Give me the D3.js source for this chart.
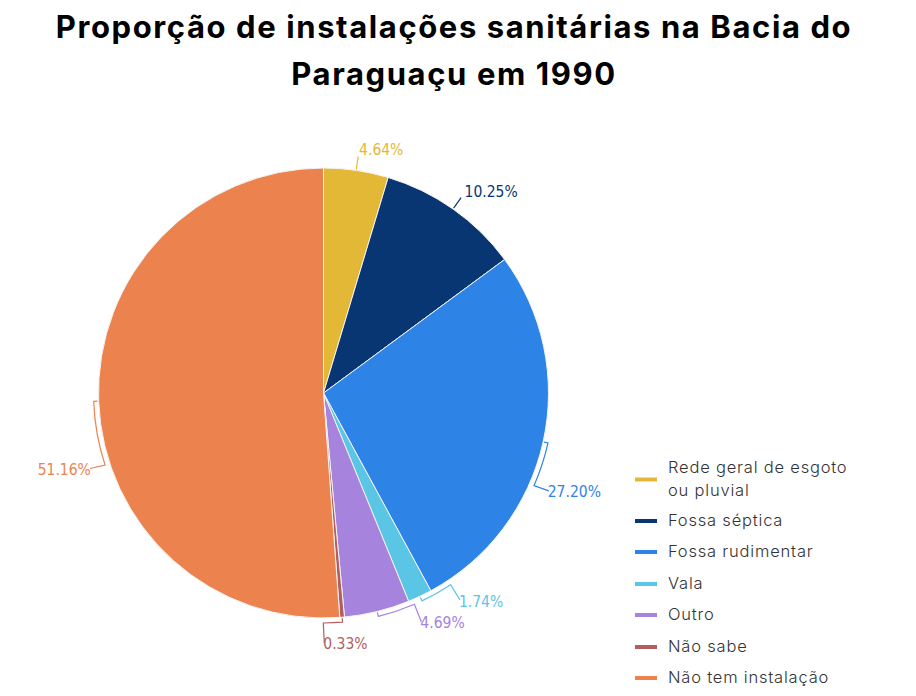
<!DOCTYPE html>
<html>
<head>
<meta charset="utf-8">
<script src="https://cdn.jsdelivr.net/npm/d3@7"></script>
<style>
  html, body { margin: 0; padding: 0; background: #fff; }
  svg { display: block; }
</style>
</head>
<body>
<svg id="chart" width="916" height="696"></svg>
<script>
// ---- data ----
const titleLines = ["Proporção de instalações sanitárias na Bacia do", "Paraguaçu em 1990"];
const categories = ["Rede geral de esgoto ou pluvial", "Fossa séptica", "Fossa rudimentar", "Vala", "Outro", "Não sabe", "Não tem instalação"];
const legendLabels = [["Rede geral de esgoto", "ou pluvial"], ["Fossa séptica"], ["Fossa rudimentar"], ["Vala"], ["Outro"], ["Não sabe"], ["Não tem instalação"]];
const values = [4.64, 10.25, 27.20, 1.74, 4.69, 0.33, 51.16];
const valueLabels = ["4.64%", "10.25%", "27.20%", "1.74%", "4.69%", "0.33%", "51.16%"];
const colors = ["#E3B836", "#073672", "#2E84E6", "#5BC5E5", "#A683DD", "#B35E5E", "#EC834F"];

// ---- layout (not data) ----
const W = 916, H = 696;
const cx = 323.5, cy = 393, R = 225;
// label angle shift (degrees) from slice middle, used to avoid overlaps
const labelShift = [0, 0, 11.2, -8.2, -9.5, 4.8, -16.2];

const svg = d3.select("#chart");

// title
svg.append("g").selectAll("text").data(titleLines).join("text")
  .attr("x", W / 2 - 4)
  .attr("y", (d, i) => 38 + i * 47)
  .attr("text-anchor", "middle")
  .style("font-family", "Inter, 'Open Sans', sans-serif")
  .style("font-weight", 700)
  .style("font-size", "31px")
  .style("letter-spacing", "1.6px")
  .style("fill", "#000")
  .text(d => d);

const data = categories.map((c, i) => ({ cat: c, value: values[i], label: valueLabels[i], color: colors[i], shift: labelShift[i] }));

const pie = d3.pie().value(d => d.value).sort(null);
const arcs = pie(data);
const arc = d3.arc().innerRadius(0).outerRadius(R);

const g = svg.append("g").attr("transform", `translate(${cx},${cy})`);

g.selectAll("path.slice").data(arcs).join("path")
  .attr("class", "slice")
  .attr("d", arc)
  .attr("fill", d => d.data.color)
  .attr("stroke", "#f4f4f4")
  .attr("stroke-width", 1);

// polar helper: angle clockwise from top
const pt = (r, a) => [r * Math.sin(a), -r * Math.cos(a)];
const rad = Math.PI / 180;

function labelAngle(d) {
  return (d.startAngle + d.endAngle) / 2 + d.data.shift * rad;
}
function labelPoint(d) {
  const la = labelAngle(d);
  const p = pt(R + 20, la);
  const c = Math.cos(la);
  if (c < 0) p[1] += 7 * c * c;
  return p;
}

function leaderPath(d) {
  const mid = (d.startAngle + d.endAngle) / 2;
  const la = labelAngle(d);
  const rb = R + 5;
  const p0 = pt(R + 1, mid);
  const p1 = pt(rb, mid);
  const p2 = pt(rb, la);
  const lp = labelPoint(d);
  const left = Math.sin(la) < -0.05;
  const p3 = [lp[0] + (left ? -1 : 1), lp[1] - 2];
  const sweep = la > mid ? 1 : 0;
  if (Math.abs(la - mid) < 1e-6) {
    return `M${p0}L${pt(R + 14, la)}`;
  }
  return `M${p0}L${p1}A${rb},${rb} 0 0 ${sweep} ${p2}L${p3}`;
}

g.selectAll("path.leader").data(arcs).join("path")
  .attr("class", "leader")
  .attr("d", leaderPath)
  .attr("fill", "none")
  .attr("stroke", d => d.data.color)
  .attr("stroke-width", 1.2);

g.selectAll("text.vlabel").data(arcs).join("text")
  .attr("class", "vlabel")
  .each(function (d) {
    const la = labelAngle(d);
    const p = labelPoint(d);
    const left = Math.sin(la) < -0.05;
    d3.select(this)
      .attr("x", p[0])
      .attr("y", p[1])
      .attr("text-anchor", left ? "end" : "start")
      .attr("dominant-baseline", "middle");
  })
  .style("font-family", "'DejaVu Sans Condensed', 'Liberation Sans Narrow', sans-serif")
  .style("font-size", "15.5px")
  .style("fill", d => d.data.color)
  .text(d => d.data.label);

// legend
const legend = svg.append("g").attr("transform", "translate(635,0)");
const rowY = [468, 521, 552, 584, 615, 647, 678];
const items = legend.selectAll("g").data(data).join("g")
  .attr("transform", (d, i) => `translate(0,${rowY[i]})`);
items.append("line")
  .attr("x1", 0).attr("x2", 22)
  .attr("y1", (d, i) => i === 0 ? 11.5 : 0)
  .attr("y2", (d, i) => i === 0 ? 11.5 : 0)
  .attr("stroke", d => d.color)
  .attr("stroke-width", 4);
items.each(function (d, i) {
  d3.select(this).selectAll("text").data(legendLabels[i]).join("text")
    .attr("x", 33)
    .attr("y", (t, j) => j * 23)
    .attr("dominant-baseline", "middle")
    .style("font-family", "Inter, Lato, sans-serif")
    .style("font-weight", 300)
    .style("font-size", "16.5px")
    .style("letter-spacing", "0.8px")
    .style("fill", "#333")
    .text(t => t);
});
</script>
</body>
</html>
